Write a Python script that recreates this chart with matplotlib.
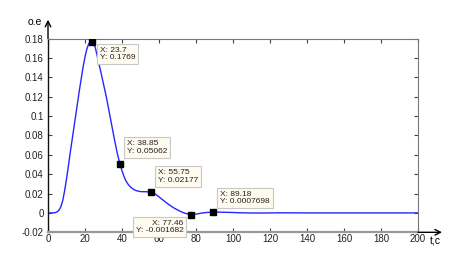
import matplotlib.pyplot as plt

plt.rcParams['font.family'] = ['Liberation Sans', 'DejaVu Sans']

# curve
t = [0, 2, 4, 5, 6, 7, 8, 9, 10, 11, 12, 13, 14, 15, 16, 17, 18, 19, 20, 21, 22, 23, 23.7,
     24.5, 25.5, 26.5, 27.5, 28.5, 30, 31.5, 33, 34.5, 36, 37.5, 38.85, 40, 41, 42, 43.5, 45,
     46.5, 48, 50, 52, 54, 55.75, 57, 58.5, 60, 62, 64, 66, 68, 70, 72, 74, 76, 77.46, 79,
     81, 83, 85, 87, 89.18, 92, 95, 100, 105, 110, 115, 120, 125, 130, 140, 160, 180, 200]
y = [0, 0, 0.0003, 0.0012, 0.003, 0.0065, 0.013, 0.023, 0.035, 0.048, 0.062, 0.075, 0.088,
     0.101, 0.114, 0.127, 0.139, 0.151, 0.161, 0.169, 0.1745, 0.1765, 0.1769,
     0.1758, 0.171, 0.163, 0.154, 0.146, 0.133, 0.120, 0.105, 0.090, 0.075, 0.061, 0.05062,
     0.0435, 0.038, 0.0335, 0.029, 0.026, 0.024, 0.0228, 0.022, 0.0219, 0.0218, 0.02177,
     0.0208, 0.0188, 0.0165, 0.0135, 0.0105, 0.0077, 0.0052, 0.0031, 0.0012, -0.0003,
     -0.0013, -0.001682, -0.0015, -0.0009, -0.0002, 0.0003, 0.0006, 0.0007698, 0.0008,
     0.0007, 0.0004, 0.0001, -0.0001, -0.0001, 0.0, 0.0001, 0.0001, 0.0, 0.0, 0.0, 0.0]

# data tips
tip_x = [23.7, 38.85, 55.75, 77.46, 89.18]
tip_y = [0.1769, 0.05062, 0.02177, -0.001682, 0.0007698]
tip_text = ['X: 23.7\nY: 0.1769', 'X: 38.85\nY: 0.05062', 'X: 55.75\nY: 0.02177',
            'X: 77.46\nY: -0.001682', 'X: 89.18\nY: 0.0007698']
tip_offset = [(8, -5), (7, 9), (7, 8), (-8, -5), (7, 7)]
tip_align = [('left', 'top'), ('left', 'bottom'), ('left', 'bottom'),
             ('right', 'top'), ('left', 'bottom')]

xticks = list(range(0, 201, 20))
yticks = [-0.02, 0, 0.02, 0.04, 0.06, 0.08, 0.1, 0.12, 0.14, 0.16, 0.18]
ylabels = ['-0.02', '0', '0.02', '0.04', '0.06', '0.08', '0.1', '0.12', '0.14', '0.16', '0.18']

fig = plt.figure(figsize=(4.6, 2.72), dpi=100)
ax = fig.add_axes([48/460, 1 - 232.3/272, 370/460, 193.8/272])

ax.plot(t, y, color='#2626ff', linewidth=1.0)
ax.plot(tip_x, tip_y, 's', color='black', markersize=4.2, zorder=5)

for i in range(len(tip_x)):
    ax.annotate(tip_text[i], xy=(tip_x[i], tip_y[i]), xytext=tip_offset[i],
                textcoords='offset pixels', ha=tip_align[i][0], va=tip_align[i][1],
                fontsize=6, color='#222222', linespacing=1.1, zorder=6,
                bbox=dict(boxstyle='square,pad=0.35', fc='#fffbee', ec='#c8c8c8', lw=0.8))

ax.set_xlim(0, 200)
ax.set_ylim(-0.02, 0.18)
ax.set_xticks(xticks)
ax.set_yticks(yticks)
ax.set_yticklabels(ylabels)
ax.tick_params(direction='in', length=3, width=0.8, top=True, right=True,
               labelsize=7, labelcolor='#222222', color='#444444', pad=3)
ax.tick_params(axis='x', pad=1.5)

for s in ['top', 'right']:
    ax.spines[s].set_color('#777777')
    ax.spines[s].set_linewidth(0.8)
ax.spines['left'].set_color('#111111')
ax.spines['left'].set_linewidth(1.0)
ax.spines['bottom'].set_color('#999999')
ax.spines['bottom'].set_linewidth(1.6)

# axis arrows
ax.annotate('', xy=(0, 1.097), xytext=(0, 1.0), xycoords='axes fraction',
            arrowprops=dict(arrowstyle='->', color='black', lw=1.0, shrinkA=0, shrinkB=0))
ax.annotate('', xy=(1.065, 0), xytext=(1.0, 0), xycoords='axes fraction',
            arrowprops=dict(arrowstyle='->', color='black', lw=1.0, shrinkA=0, shrinkB=0))
fig.text(28/460, 1 - 22/272, 'o.e', fontsize=7.5, ha='left', va='center')
fig.text(430/460, 1 - 242/272, 't,c', fontsize=7.5, ha='left', va='center')

fig.savefig('out.png', dpi=100)
